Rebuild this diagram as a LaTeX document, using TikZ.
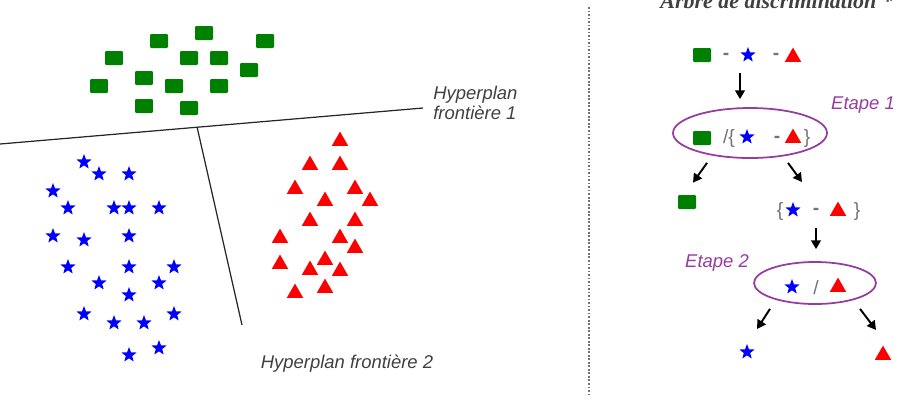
\documentclass[tikz,border=0pt]{standalone}
\usepackage{fontspec}
\setmainfont{Liberation Serif}
\setsansfont{Liberation Sans}
\usetikzlibrary{shapes.geometric, arrows.meta, calc}

\definecolor{vertC}{RGB}{0,128,0}
\definecolor{violetE}{RGB}{150,60,160}
\definecolor{grisT}{RGB}{64,64,64}

\tikzset{
    carre/.style={rectangle, fill=vertC, minimum width=0.36cm, minimum height=0.28cm,
        inner sep=0pt, rounded corners=0.6pt},
    etoile/.style={star, star points=5, star point ratio=2.4, fill=blue,
        minimum size=0.32cm, inner sep=0pt},
    triangle/.style={regular polygon, regular polygon sides=3, fill=red,
        minimum size=0.38cm, inner sep=0pt, yshift=-1.2pt},
    legende/.style={font=\sffamily\itshape\fontsize{10.5}{11.4}\selectfont, text=grisT,
        inner sep=0pt},
    etape/.style={font=\sffamily\itshape\fontsize{10.5}{12}\selectfont, text=violetE,
        inner sep=0pt},
    signe/.style={font=\sffamily\fontsize{11}{12}\selectfont, text=black!55, inner sep=0pt},
    groupe/.style={ellipse, draw=violetE, line width=1pt, inner sep=0pt},
    fleche/.style={-{Triangle[length=5pt, width=5.5pt]}, line width=1.1pt},
    frontiere/.style={line width=0.7pt, black!85}
}

\begin{document}
\begin{tikzpicture}[x=0.02cm, y=-0.02cm]
    \useasboundingbox (0,0) rectangle (913,414);

    % Nuages de points
    \foreach \x/\y [count=\i] in {159/41, 204/33, 265/41, 114/58, 189/58, 219/58,
        249/70, 144/78, 99/86, 174/86, 219/86, 144/106, 189/108}
        \node[carre] (c\i) at (\x,\y) {};
    \foreach \x/\y [count=\i] in {84/162, 99/174, 129/174, 53/191, 68/208, 114/208,
        129/208, 159/208, 53/236, 84/240, 129/236, 68/267, 129/267, 174/267, 99/283,
        159/283, 129/295, 84/314, 114/323, 144/323, 174/314, 129/355, 159/348}
        \node[etoile] (e\i) at (\x,\y) {};
    \foreach \x/\y [count=\i] in {340/139, 310/163, 340/163, 295/187, 355/187, 325/199,
        370/199, 310/219, 355/219, 280/236, 340/236, 355/246, 325/258, 280/262,
        310/268, 340/269, 295/291, 325/286}
        \node[triangle] (t\i) at (\x,\y) {};

    % Hyperplans
    \coordinate (h1a) at (0,144);
    \coordinate (h1b) at (423,108);
    \coordinate (h2a) at ($(h1a)!0.466!(h1b)$);
    \coordinate (h2b) at (242,325);
    \draw[frontiere] (h1a) -- (h1b);
    \draw[frontiere] (h2a) -- (h2b);
    \node[legende, anchor=north west, align=left] (hyp1) at (433,86)
        {Hyperplan\\frontière 1};
    \node[legende] (hyp2) at (347,364) {Hyperplan frontière 2};

    % Separation
    \draw[black!55, line width=0.9pt, dash pattern=on 1pt off 1pt] (589,7) -- (589,395);

    % Arbre
    \node[anchor=base west, inner sep=0pt, text=grisT,
        font=\bfseries\itshape\fontsize{12.5}{14}\selectfont] (titre) at (660,8)
        {Arbre de discrimination *};

    \node[carre] (r1c) at (702,55) {};
    \node[signe] (r1m) at (726,56) {\textbf{-}};
    \node[etoile] (r1e) at (748,55) {};
    \node[signe] (r1n) at (776,56) {\textbf{-}};
    \node[triangle] (r1t) at (793,55) {};

    \node[groupe, minimum width=3.08cm, minimum height=1cm] (ell1) at (750,133) {};
    \node[carre] (g1c) at (702,138) {};
    \node[signe] (g1s) at (729,138) {/\{};
    \node[etoile] (g1e) at (747,137) {};
    \node[signe] (g1m) at (777,139) {\textbf{-}};
    \node[triangle] (g1t) at (793,136) {};
    \node[signe] (g1f) at (807,138) {\}};
    \node[etape] (et1) at (863,105) {Etape 1};

    \node[carre] (fc) at (687,202) {};

    \node[signe] (eo) at (780,211) {\{};
    \node[etoile] (ee) at (793,210) {};
    \node[signe] (em) at (816,211) {\textbf{-}};
    \node[triangle] (et) at (838,209) {};
    \node[signe] (ef) at (857,211) {\}};

    \node[groupe, minimum width=2.44cm, minimum height=0.84cm] (ell2) at (815,283) {};
    \node[etoile] (g2e) at (792,287) {};
    \node[signe] (g2s) at (816,288) {/};
    \node[triangle] (g2t) at (838,285) {};
    \node[etape] (et2) at (717,263) {Etape 2};

    \node[etoile] (fe) at (747,352) {};
    \node[triangle] (ft) at (883,353) {};

    \draw[fleche] ($(r1e.south)+(-8,14)$) -- ($(ell1.north)+(-10,-8)$);
    \draw[fleche] ($(ell1.south)+(-43,4)$) -- ($(fc.north)+(6,-12)$);
    \draw[fleche] ($(ell1.south)+(38,4)$) -- ($(ee.north)+(9,-19)$);
    \draw[fleche] ($(em.south)+(0,14)$) -- ($(ell2.north)+(1,-12)$);
    \draw[fleche] ($(ell2.south)+(-45,4)$) -- ($(fe.north)+(10,-14)$);
    \draw[fleche] ($(ell2.south)+(45,4)$) -- ($(ft.north)+(-7,-15)$);
\end{tikzpicture}
\end{document}
